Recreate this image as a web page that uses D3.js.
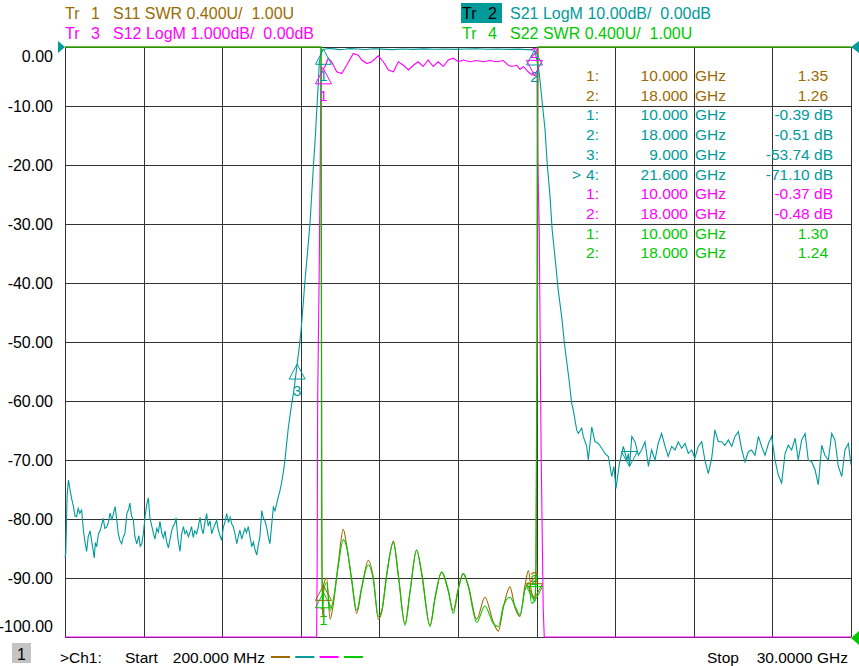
<!DOCTYPE html>
<html>
<head>
<meta charset="utf-8">
<script src="https://cdn.jsdelivr.net/npm/d3@7"></script>
<style>
  body { margin: 0; background: #fff; }
  svg { display: block; font-family: "Liberation Sans", Arial, sans-serif; }
</style>
</head>
<body>
<div id="chart"></div>
<script>
// sweep settings (GHz)
var freqStart = 0.2;
var freqStop = 30;

// y tick labels (S21 scale, dB)
var yTicks = [0, -10, -20, -30, -40, -50, -60, -70, -80, -90, -100];

// Tr1 S11 SWR  [GHz, SWR]
var s11Trace = [
  [0.2, 30], [9.91, 30], [9.94, 1.7], [9.97, 1.2], [10.0, 1.35],
  [10.12, 1.40], [10.25, 1.12], [10.37, 1.22], [10.56, 1.50], [10.75, 1.73], [10.88, 1.62],
  [11.07, 1.38], [11.26, 1.16], [11.45, 1.33], [11.70, 1.52], [11.89, 1.40], [12.08, 1.12],
  [12.21, 1.17], [12.40, 1.42], [12.65, 1.65], [12.84, 1.42], [13.09, 1.09], [13.28, 1.31],
  [13.53, 1.59], [13.72, 1.44], [14.04, 1.08], [14.23, 1.26], [14.48, 1.44], [14.73, 1.31],
  [14.92, 1.18], [15.11, 1.33], [15.30, 1.43], [15.49, 1.35], [15.81, 1.12], [16.12, 1.27],
  [16.44, 1.10], [16.63, 1.04], [16.82, 1.20], [17.07, 1.34], [17.26, 1.20], [17.45, 1.14],
  [17.64, 1.35], [17.77, 1.45], [17.89, 1.30], [18.0, 1.26],
  [18.06, 1.5], [18.12, 3.5], [18.14, 30], [30, 30]
];

// Tr2 S21 LogM  [GHz, dB]
var s21Trace = [
  [0.20, -86.5], [0.23, -85.8], [0.28, -76.0], [0.33, -73.4], [0.39, -75.0], [0.45, -76.5],
  [0.52, -77.9], [0.58, -79.5], [0.64, -79.6], [0.70, -78.2], [0.76, -79.0], [0.83, -78.5],
  [0.90, -82.0], [0.96, -84.0], [1.02, -85.5], [1.08, -83.0], [1.15, -82.0], [1.22, -84.0],
  [1.31, -86.6], [1.35, -84.0], [1.40, -84.7], [1.47, -82.5], [1.53, -82.0], [1.59, -81.0],
  [1.65, -79.9], [1.71, -81.6], [1.78, -81.4], [1.85, -80.5], [1.91, -79.0], [1.98, -80.2],
  [2.04, -79.0], [2.10, -77.9], [2.16, -80.0], [2.22, -82.5], [2.28, -83.6], [2.35, -84.2],
  [2.41, -83.0], [2.47, -82.5], [2.55, -79.0], [2.61, -78.4], [2.66, -77.3], [2.72, -79.5],
  [2.79, -80.1], [2.85, -83.0], [2.92, -84.2], [3.00, -82.8], [3.05, -84.6], [3.11, -84.2],
  [3.17, -82.5], [3.24, -79.4], [3.30, -77.5], [3.36, -76.4], [3.42, -79.8], [3.49, -81.2],
  [3.55, -82.4], [3.61, -83.4], [3.68, -81.6], [3.74, -82.2], [3.80, -80.4], [3.87, -82.4],
  [3.93, -83.2], [3.99, -82.0], [4.05, -83.8], [4.12, -84.9], [4.18, -83.5], [4.24, -82.1],
  [4.30, -81.2], [4.36, -80.8], [4.41, -79.8], [4.48, -83.3], [4.56, -85.5], [4.62, -82.6],
  [4.69, -81.3], [4.75, -82.5], [4.81, -82.0], [4.88, -83.0], [4.94, -82.2], [5.00, -81.3],
  [5.06, -83.1], [5.12, -82.0], [5.19, -82.5], [5.25, -81.4], [5.32, -79.7], [5.38, -81.6],
  [5.44, -82.5], [5.50, -80.7], [5.57, -79.1], [5.63, -81.2], [5.70, -80.3], [5.76, -82.5],
  [5.82, -81.7], [5.88, -81.0], [5.95, -80.2], [6.01, -81.8], [6.08, -82.9], [6.14, -83.6],
  [6.20, -81.5], [6.27, -80.4], [6.33, -79.1], [6.40, -80.6], [6.46, -79.7], [6.52, -80.8],
  [6.58, -81.3], [6.65, -82.6], [6.71, -84.2], [6.77, -83.0], [6.83, -81.9], [6.90, -83.4],
  [6.96, -82.5], [7.02, -81.6], [7.08, -82.3], [7.15, -81.3], [7.21, -82.9], [7.28, -84.7],
  [7.34, -83.9], [7.40, -85.1], [7.47, -86.1], [7.53, -84.4], [7.59, -83.0], [7.66, -78.6],
  [7.72, -79.8], [7.78, -80.3], [7.85, -81.5], [7.91, -83.1], [7.97, -84.2], [8.04, -80.8],
  [8.10, -78.0], [8.16, -78.6], [8.23, -77.3], [8.29, -76.2], [8.35, -75.2], [8.41, -73.9],
  [8.48, -72.0], [8.54, -70.0], [8.60, -67.4], [8.67, -64.4], [8.76, -61.5], [8.86, -58.7],
  [8.94, -56.0], [9.00, -53.74], [9.08, -51.0], [9.15, -48.0], [9.24, -43.0], [9.30, -39.5],
  [9.40, -34.5], [9.49, -29.8], [9.55, -25.3], [9.61, -20.8], [9.68, -16.0], [9.74, -11.2],
  [9.80, -6.5], [9.84, -2.7], [9.93, -0.5], [10.00, -0.39],
  [10.2, -0.25], [10.4, -0.32], [10.6, -0.45], [10.8, -0.38], [11.0, -0.28], [11.3, -0.34],
  [11.6, -0.42], [11.9, -0.30], [12.2, -0.36], [12.6, -0.44], [13.0, -0.33], [13.4, -0.40],
  [13.8, -0.31], [14.2, -0.38], [14.6, -0.33], [15.0, -0.41], [15.4, -0.35], [15.8, -0.30],
  [16.2, -0.37], [16.6, -0.33], [17.0, -0.40], [17.4, -0.36], [17.7, -0.45], [17.9, -0.42],
  [18.0, -0.51],
  [18.08, -2.0], [18.18, -4.4], [18.27, -8.4], [18.40, -14.0], [18.48, -19.7], [18.59, -25.4],
  [18.67, -31.0], [18.80, -36.6], [18.90, -41.2], [19.03, -45.7], [19.15, -50.8], [19.31, -56.4],
  [19.41, -60.4], [19.47, -61.5], [19.60, -64.9], [19.66, -65.5], [19.79, -64.6], [19.85, -66.0],
  [19.98, -67.7], [20.04, -70.0], [20.17, -64.4], [20.29, -66.9], [20.42, -67.2], [20.55, -68.0],
  [20.67, -68.9], [20.80, -69.4], [20.93, -72.8], [21.01, -71.1], [21.09, -74.8], [21.22, -70.6],
  [21.37, -67.7], [21.50, -70.0], [21.56, -68.9], [21.60, -71.1], [21.69, -66.0], [21.81, -66.9],
  [21.94, -69.2], [22.06, -68.3], [22.19, -66.9], [22.32, -71.1], [22.44, -68.3], [22.57, -70.0],
  [22.69, -67.2], [22.82, -65.5], [22.95, -67.7], [23.07, -69.4], [23.20, -67.7], [23.33, -68.3],
  [23.45, -66.9], [23.58, -68.0], [23.71, -67.2], [23.83, -68.9], [23.96, -68.3], [24.08, -69.7],
  [24.21, -67.7], [24.34, -66.9], [24.46, -70.0], [24.59, -72.3], [24.72, -69.7], [24.84, -64.9],
  [24.97, -66.9], [25.10, -66.9], [25.22, -67.5], [25.35, -66.6], [25.48, -67.7], [25.60, -66.0],
  [25.73, -65.2], [25.86, -68.3], [25.98, -70.3], [26.11, -68.6], [26.23, -68.3], [26.36, -69.2],
  [26.49, -66.0], [26.61, -67.7], [26.74, -69.2], [26.87, -67.2], [26.99, -66.0], [27.12, -70.0],
  [27.24, -72.5], [27.37, -73.9], [27.50, -68.9], [27.62, -67.5], [27.75, -68.3], [27.88, -66.3],
  [28.00, -70.0], [28.13, -66.6], [28.26, -65.5], [28.38, -70.0], [28.51, -70.3], [28.64, -71.7],
  [28.76, -74.2], [28.89, -67.5], [29.01, -69.2], [29.14, -70.0], [29.27, -65.5], [29.39, -66.6],
  [29.52, -71.1], [29.65, -72.8], [29.77, -68.3], [29.90, -67.2], [30.00, -70.8]
];

// Tr3 S12 LogM  [GHz, dB]
var s12Trace = [
  [0.2, -80], [9.0, -53.7], [9.60, -25], [9.72, -12], [9.74, -10.0], [9.76, -8.8], [9.78, -6.0],
  [9.84, -3.7], [9.91, -0.34], [10.0, -0.37], [10.06, -0.33], [10.18, -0.19], [10.31, -0.25],
  [10.50, -0.42], [10.69, -0.45], [10.88, -0.31], [11.13, -0.11], [11.32, -0.14], [11.45, -0.22],
  [11.64, -0.28], [11.83, -0.25], [12.08, -0.15], [12.27, -0.25], [12.46, -0.39], [12.65, -0.42],
  [12.84, -0.25], [13.03, -0.31], [13.22, -0.39], [13.41, -0.31], [13.59, -0.25], [13.78, -0.33],
  [13.97, -0.22], [14.16, -0.33], [14.35, -0.25], [14.54, -0.33], [14.73, -0.22], [14.92, -0.19],
  [15.11, -0.25], [15.30, -0.22], [15.55, -0.25], [15.81, -0.23], [16.06, -0.25], [16.31, -0.23],
  [16.57, -0.25], [16.82, -0.23], [17.01, -0.31], [17.14, -0.33], [17.33, -0.31], [17.45, -0.38],
  [17.58, -0.33], [17.76, -0.42], [17.89, -0.47], [18.0, -0.48], [18.10, -0.5], [18.12, -1.86],
  [18.18, -3.1], [18.25, -6.8], [18.33, -9.5], [18.37, -12], [19.0, -45], [30, -70]
];

// Tr4 S22 SWR  [GHz, SWR]
var s22Trace = [
  [0.2, 30], [9.90, 30], [9.93, 1.8], [9.96, 1.15], [10.0, 1.30],
  [10.12, 1.37], [10.25, 1.18], [10.37, 1.25], [10.56, 1.48], [10.75, 1.66], [10.88, 1.61],
  [11.07, 1.39], [11.26, 1.18], [11.45, 1.34], [11.70, 1.49], [11.89, 1.39], [12.08, 1.14],
  [12.21, 1.18], [12.40, 1.43], [12.65, 1.64], [12.84, 1.41], [13.09, 1.08], [13.28, 1.30],
  [13.53, 1.59], [13.72, 1.43], [14.04, 1.07], [14.23, 1.27], [14.48, 1.44], [14.73, 1.32],
  [14.92, 1.16], [15.11, 1.32], [15.30, 1.43], [15.49, 1.34], [15.81, 1.10], [16.12, 1.21],
  [16.44, 1.09], [16.63, 1.07], [16.82, 1.21], [17.07, 1.27], [17.26, 1.21], [17.45, 1.15],
  [17.64, 1.32], [17.77, 1.37], [17.89, 1.23], [18.0, 1.24],
  [18.05, 1.35], [18.09, 3.0], [18.11, 30], [30, 30]
];

// marker readouts [GHz, value]
var s11Markers = [[10, 1.35], [18, 1.26]];
var s21Markers = [[10, -0.39], [18, -0.51], [9, -53.74], [21.6, -71.10]];
var s12Markers = [[10, -0.37], [18, -0.48]];
var s22Markers = [[10, 1.30], [18, 1.24]];

var svgWidth = 859;
var svgHeight = 666;

var margin = {
  top: 47,
  right: 8,
  bottom: 29,
  left: 65
};

var width = svgWidth - margin.left - margin.right;
var height = svgHeight - margin.top - margin.bottom;

var colors = {
  s11: "#9b6a00",
  s21: "#009a9a",
  s12: "#ff00ff",
  s22: "#00c800",
  grid: "#333333"
};

var svg = d3.select("#chart")
  .append("svg")
  .attr("width", svgWidth)
  .attr("height", svgHeight);

var chartGroup = svg.append("g")
  .attr("transform", `translate(${margin.left}, ${margin.top})`);

// scales -- the analyzer clips traces at the graticule edge, so clamp
var xScale = d3.scaleLinear().domain([freqStart, freqStop]).range([0, width]);
var yDb = d3.scaleLinear().domain([-100, 0]).range([height, 0]).clamp(true);
var yS12 = d3.scaleLinear().domain([-10, 0]).range([height, 0]).clamp(true);
var ySwr = d3.scaleLinear().domain([1, 5]).range([height, 0]).clamp(true);

// 10 divisions across the sweep
var xDivs = d3.range(11).map(i => freqStart + i * (freqStop - freqStart) / 10);

// grid
var vGrid = chartGroup.append("g")
  .call(d3.axisBottom(xScale).tickValues(xDivs).tickSize(height).tickFormat(""));
var hGrid = chartGroup.append("g")
  .call(d3.axisRight(yDb).tickValues(yTicks).tickSize(width).tickFormat(""));
[vGrid, hGrid].forEach(function(g) {
  g.select(".domain").remove();
  g.selectAll("line")
    .attr("stroke", colors.grid)
    .attr("shape-rendering", "crispEdges");
});

// y labels
var yAxis = chartGroup.append("g")
  .call(d3.axisLeft(yDb).tickValues(yTicks).tickSize(0).tickPadding(12).tickFormat(d => d.toFixed(2)))
  .attr("font-size", 16)
  .attr("font-family", null);
yAxis.select(".domain").remove();
yAxis.selectAll("text")
  .attr("fill", "#000")
  .attr("dy", d => d === 0 ? "0.92em" : (d === -100 ? "-0.36em" : "0.34em"));

// traces
function drawTrace(data, yScale, color, curve) {
  var line = d3.line()
    .curve(curve || d3.curveLinear)
    .x(d => xScale(d[0]))
    .y(d => yScale(d[1]));
  chartGroup.append("path")
    .datum(data)
    .attr("d", line)
    .attr("fill", "none")
    .attr("stroke", color)
    .attr("stroke-width", 1.1);
}

drawTrace(s11Trace, ySwr, colors.s11, d3.curveMonotoneX);
drawTrace(s21Trace, yDb, colors.s21);
drawTrace(s12Trace, yS12, colors.s12);
drawTrace(s22Trace, ySwr, colors.s22, d3.curveMonotoneX);

// marker symbols: "up" = triangle under the point with number below,
// "down" = triangle above the point with number above
function drawMarkers(markers, yScale, color, dirs, labels) {
  markers.forEach(function(m, i) {
    var px = xScale(m[0]);
    var py = yScale(m[1]);
    var dir = dirs[i];
    var h = dir === "up" ? 15 : -15;
    chartGroup.append("path")
      .attr("d", `M${px},${py} L${px - 8},${py + h} L${px + 8},${py + h} Z`)
      .attr("fill", "none")
      .attr("stroke", color)
      .attr("stroke-width", 1);
    if (labels[i]) {
      chartGroup.append("text")
        .attr("x", px)
        .attr("y", dir === "up" ? py + 32 : py - 17)
        .attr("text-anchor", "middle")
        .attr("font-size", 15)
        .attr("fill", color)
        .text(i + 1);
    }
  });
}

drawMarkers(s11Markers, ySwr, colors.s11, ["up", "down"], [true, true]);
drawMarkers(s21Markers, yDb, colors.s21, ["up", "up", "up", "down"], [true, true, true, false]);
drawMarkers(s12Markers, yS12, colors.s12, ["up", "down"], [true, true]);
drawMarkers(s22Markers, ySwr, colors.s22, ["up", "down"], [true, true]);

// reference position arrows
svg.append("path").attr("d", "M58,41 L65,47 L58,53 Z").attr("fill", colors.s21);
svg.append("path").attr("d", "M859,41 L851,47 L859,53 Z").attr("fill", colors.s21);
svg.append("path").attr("d", "M859,631 L851,638 L859,645 Z").attr("fill", colors.s22);

// header: trace settings
var header = [
  {tr: "1", text: "S11 SWR 0.400U/  1.00U", x: 65, y: 19, color: colors.s11, active: false},
  {tr: "3", text: "S12 LogM 1.000dB/  0.00dB", x: 65, y: 39, color: colors.s12, active: false},
  {tr: "2", text: "S21 LogM 10.00dB/  0.00dB", x: 462, y: 19, color: colors.s21, active: true},
  {tr: "4", text: "S22 SWR 0.400U/  1.00U", x: 462, y: 39, color: colors.s22, active: false}
];

header.forEach(function(h) {
  if (h.active) {
    svg.append("rect")
      .attr("x", h.x - 1).attr("y", h.y - 16)
      .attr("width", 41).attr("height", 20)
      .attr("fill", colors.s21);
  }
  var t = svg.append("text")
    .attr("y", h.y)
    .attr("font-size", 16)
    .style("white-space", "pre");
  t.append("tspan").attr("x", h.x).attr("fill", h.active ? "#000" : h.color).text("Tr");
  t.append("tspan").attr("x", h.x + 26).attr("fill", h.active ? "#000" : h.color).text(h.tr);
  t.append("tspan").attr("x", h.x + 48).attr("fill", h.color).text(h.text);
});

// marker readout table
var rows = [];
s11Markers.forEach((m, i) => rows.push({n: i + 1, m: m, color: colors.s11, val: m[1].toFixed(2), db: false}));
s21Markers.forEach((m, i) => rows.push({n: i + 1, m: m, color: colors.s21, val: m[1].toFixed(2) + " dB", db: true, active: i === 3}));
s12Markers.forEach((m, i) => rows.push({n: i + 1, m: m, color: colors.s12, val: m[1].toFixed(2) + " dB", db: true}));
s22Markers.forEach((m, i) => rows.push({n: i + 1, m: m, color: colors.s22, val: m[1].toFixed(2), db: false}));

var table = svg.append("g")
  .attr("font-size", 15.5)
  .style("white-space", "pre");

rows.forEach(function(r, i) {
  var y = 81 + i * 19.7;
  if (r.active) {
    table.append("text").attr("x", 572).attr("y", y).attr("fill", r.color).text(">");
  }
  table.append("text").attr("x", 599).attr("y", y).attr("text-anchor", "end")
    .attr("fill", r.color).text(r.n + ":");
  table.append("text").attr("x", 688).attr("y", y).attr("text-anchor", "end")
    .attr("fill", r.color).text(r.m[0].toFixed(3));
  table.append("text").attr("x", 695).attr("y", y)
    .attr("fill", r.color).text("GHz");
  table.append("text").attr("x", r.db ? 833 : 828).attr("y", y).attr("text-anchor", "end")
    .attr("fill", r.color).text(r.val);
});

// footer
svg.append("rect")
  .attr("x", 12).attr("y", 643)
  .attr("width", 19).attr("height", 20)
  .attr("fill", "#c4c4c4");
svg.append("text").attr("x", 21.5).attr("y", 660).attr("text-anchor", "middle")
  .attr("font-size", 16).text("1");

var footer = svg.append("g").attr("font-size", 15.5).attr("fill", "#000");
footer.append("text").attr("x", 60).attr("y", 663).text(">Ch1:");
footer.append("text").attr("x", 125).attr("y", 663).text("Start");
footer.append("text").attr("x", 265).attr("y", 663).attr("text-anchor", "end").text("200.000 MHz");
footer.append("text").attr("x", 707).attr("y", 663).text("Stop");
footer.append("text").attr("x", 848).attr("y", 663).attr("text-anchor", "end").text("30.0000 GHz");

[colors.s11, colors.s21, colors.s12, colors.s22].forEach(function(c, i) {
  svg.append("line")
    .attr("x1", 271 + i * 24.3).attr("x2", 290 + i * 24.3)
    .attr("y1", 657).attr("y2", 657)
    .attr("stroke", c)
    .attr("stroke-width", 2);
});
</script>
</body>
</html>
